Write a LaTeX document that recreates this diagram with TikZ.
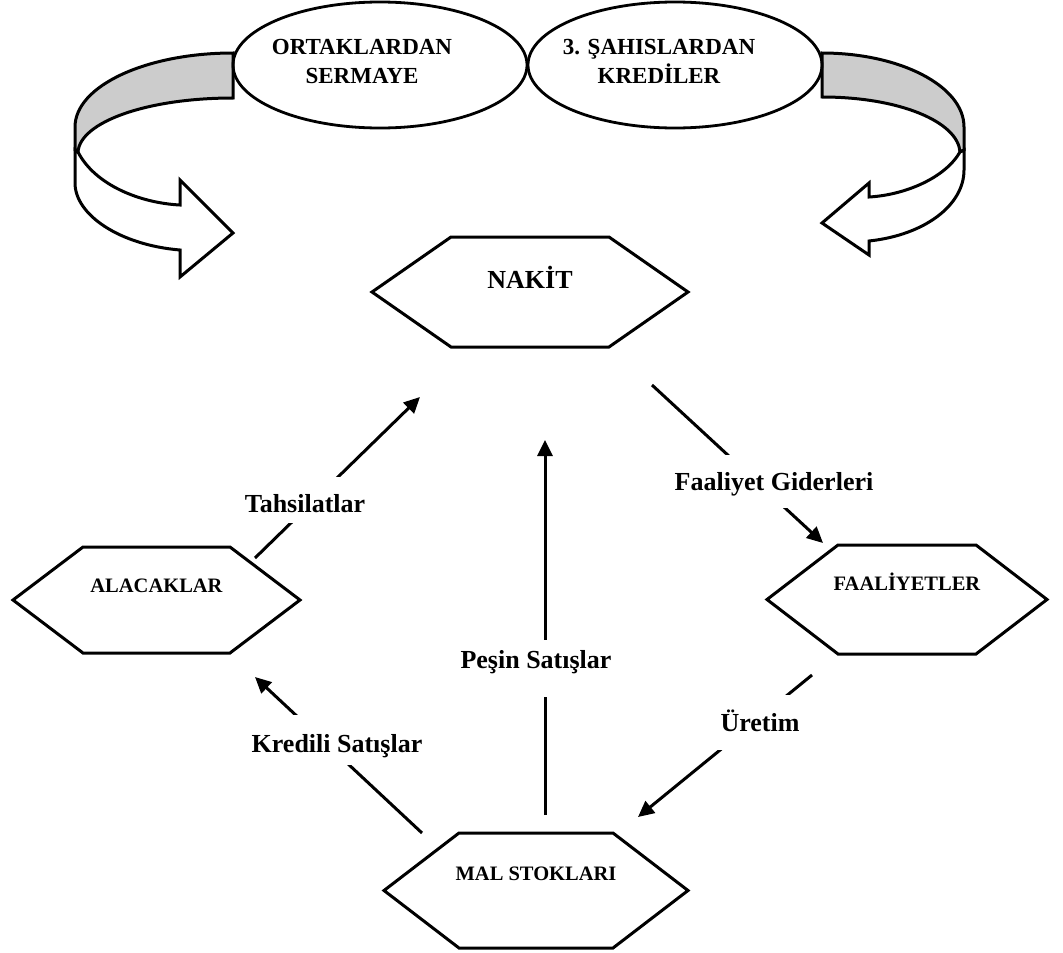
\documentclass[tikz,border=0pt]{standalone}
\usepackage{fontspec}
\setmainfont{Liberation Serif}
\usetikzlibrary{arrows.meta,shapes.geometric}
\tikzset{
  hexnode/.style={rectangle, inner sep=0pt, outer sep=0pt, font=\bfseries\fontsize{20.5}{24}\selectfont},
  hexline/.style={line width=3pt, draw=black},
  flow/.style={line width=3pt, -{Triangle[length=16pt,width=15pt]}},
  lab/.style={fill=white, inner xsep=4pt, inner ysep=0pt, anchor=base, font=\bfseries\fontsize{26}{30}\selectfont},
  ell/.style={ellipse, draw, line width=2.8pt, minimum width=294pt, minimum height=126pt, inner sep=0pt},
  elltext/.style={align=center, font=\bfseries\fontsize{23}{29}\selectfont},
  ribbon/.style={line width=3pt, draw=black},
}
\newcommand{\hexpath}[2]{\draw[hexline] (#1.west) -- ([xshift=#2]#1.north west) -- ([xshift=-#2]#1.north east) -- (#1.east) -- ([xshift=-#2]#1.south east) -- ([xshift=#2]#1.south west) -- cycle;}
\begin{document}
\begin{tikzpicture}[x=1pt,y=-1pt]
\useasboundingbox (0,0) rectangle (1063,953);

% left curved ribbon arrow
\filldraw[ribbon, fill=black!20] (233,53) .. controls (146,53) and (75,86) .. (75,127) -- (75,150) -- (78,152) .. controls (80,122) and (147,98) .. (233,98) -- cycle;
\filldraw[ribbon, fill=white] (78,152) .. controls (95,185) and (140,203) .. (180,205) -- (180,180) -- (233,233) -- (180,277) -- (180,250) .. controls (120,245) and (75,215) .. (75,183) -- (75,150) -- cycle;

% right curved ribbon arrow
\filldraw[ribbon, fill=black!20] (822,53) .. controls (900,53) and (964,86) .. (964,127) -- (964,150) -- (960,152) .. controls (958,122) and (900,97) .. (822,97) -- cycle;
\filldraw[ribbon, fill=white] (960,152) .. controls (945,178) and (905,195) .. (869,197) -- (869,183) -- (822,223) -- (869,255) -- (869,241) .. controls (925,235) and (964,205) .. (964,170) -- (964,150) -- cycle;

% ellipses
\node[ell] (orta) at (380,65) {};
\node[ell] (sahis) at (675,65) {};
\node[elltext] (ortat) at (362,61) {ORTAKLARDAN\\SERMAYE};
\node[elltext] (sahist) at (659,61) {3. ŞAHISLARDAN\\KREDİLER};

% hexagons
\node[hexnode, minimum width=316pt, minimum height=110pt, font=\bfseries\fontsize{26}{30}\selectfont] (nak) at (530,292) {\raisebox{3.5pt}[0pt][0pt]{NAKİT}};
\hexpath{nak}{79pt}
\node[hexnode, minimum width=287pt, minimum height=106pt] (ala) at (156.5,600) {\raisebox{8pt}[0pt][0pt]{ALACAKLAR}};
\hexpath{ala}{70pt}
\node[hexnode, minimum width=280pt, minimum height=109pt] (fal) at (907,599.5) {\raisebox{9pt}[0pt][0pt]{FAALİYETLER}};
\hexpath{fal}{71pt}
\node[hexnode, minimum width=304pt, minimum height=115pt] (mal) at (536,890.5) {\raisebox{10pt}[0pt][0pt]{MAL STOKLARI}};
\hexpath{mal}{75pt}

% connector end points
\coordinate (tahS) at (255,558);
\coordinate (tahE) at (420,397);
\coordinate (faaS) at (652,385);
\coordinate (faaE) at (823,543);
\coordinate (ureS) at (812,675);
\coordinate (ureE) at (638,817);
\coordinate (kreS) at (422,833);
\coordinate (kreE) at (255,677);
\coordinate (pesS) at (545,815);
\coordinate (pesE) at (545,440);

\draw[flow] (tahS) -- (tahE);
\draw[flow] (faaS) -- (faaE);
\draw[flow] (ureS) -- (ureE);
\draw[flow] (kreS) -- (kreE);
\draw[flow] (pesS) -- (pesE);

% labels
\node[lab, text height=35pt, text depth=11pt] (ltah) at (305,512) {Tahsilatlar};
\node[lab, text height=35pt, text depth=18pt] (lfaa) at (774,490) {Faaliyet Giderleri};
\node[lab, text height=36pt, text depth=19pt] (lure) at (760,731) {Üretim};
\node[lab, text height=37pt, text depth=13pt] (lkre) at (337,752) {Kredili Satışlar};
\node[lab, text height=28pt, text depth=29pt] (lpes) at (536,668) {Peşin Satışlar};
\end{tikzpicture}
\end{document}
